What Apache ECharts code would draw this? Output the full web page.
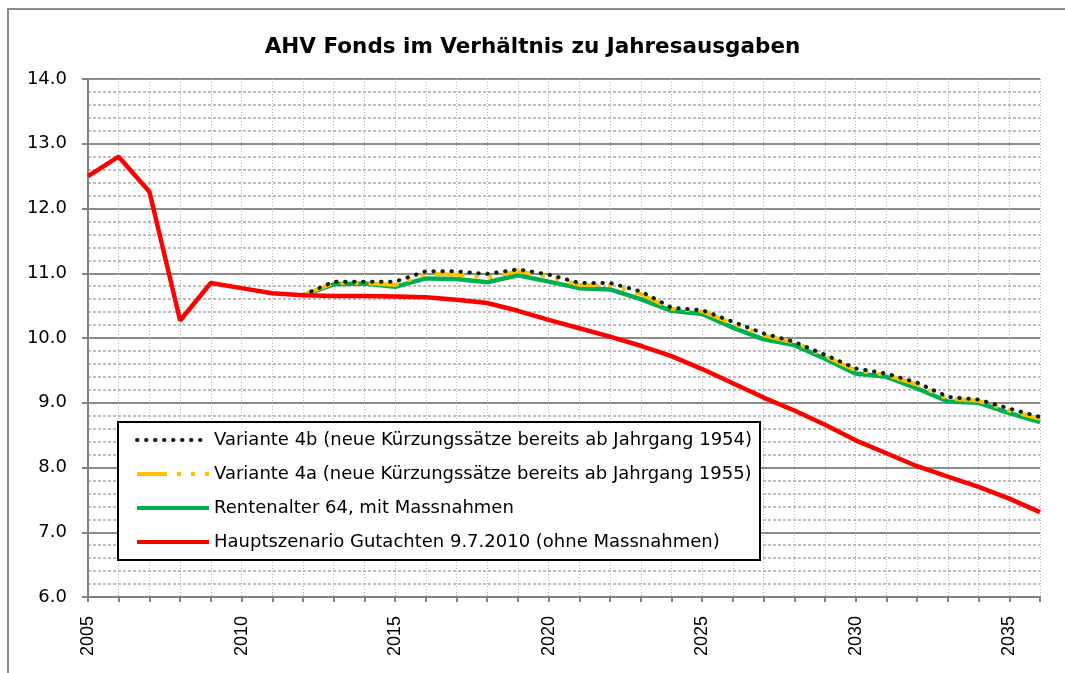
<!DOCTYPE html>
<html>
<head>
<meta charset="utf-8">
<script src="https://cdn.jsdelivr.net/npm/echarts@6/dist/echarts.min.js"></script>
<style>
html, body { margin: 0; padding: 0; background: #fff; }
#container { width: 1065px; height: 673px; }
</style>
</head>
<body>
<div id="container"></div>
<script>
var years = ['2005', '2006', '2007', '2008', '2009', '2010', '2011', '2012', '2013', '2014',
    '2015', '2016', '2017', '2018', '2019', '2020', '2021', '2022', '2023', '2024',
    '2025', '2026', '2027', '2028', '2029', '2030', '2031', '2032', '2033', '2034',
    '2035', '2036'];

// Hauptszenario Gutachten 9.7.2010 (ohne Massnahmen)
var hauptszenario = [12.5, 12.8, 12.26, 10.27, 10.85, 10.77, 10.69, 10.66, 10.65, 10.65,
    10.64, 10.63, 10.59, 10.54, 10.42, 10.28, 10.15, 10.02, 9.88, 9.72,
    9.52, 9.3, 9.08, 8.88, 8.66, 8.42, 8.22, 8.02, 7.86, 7.7,
    7.52, 7.31];

// Rentenalter 64, mit Massnahmen
var rentenalter64 = [null, null, null, null, null, null, null, 10.66, 10.83, 10.84,
    10.79, 10.92, 10.91, 10.86, 10.97, 10.87, 10.77, 10.75, 10.6, 10.42,
    10.37, 10.16, 9.98, 9.89, 9.68, 9.45, 9.4, 9.22, 9.02, 9.0,
    8.84, 8.7];

// Variante 4a
var variante4a = [null, null, null, null, null, null, null, 10.66, 10.85, 10.85,
    10.82, 10.99, 10.98, 10.93, 11.03, 10.95, 10.82, 10.82, 10.68, 10.45,
    10.41, 10.22, 10.04, 9.93, 9.72, 9.5, 9.43, 9.28, 9.06, 9.03,
    8.88, 8.75];

// Variante 4b
var variante4b = [null, null, null, null, null, null, null, 10.66, 10.87, 10.87,
    10.87, 11.03, 11.03, 10.99, 11.06, 10.98, 10.85, 10.85, 10.72, 10.47,
    10.43, 10.25, 10.07, 9.94, 9.74, 9.53, 9.45, 9.31, 9.09, 9.05,
    8.91, 8.78];

var yTicks = { min: 6, max: 14, step: 1 };

var dom = document.getElementById("container");
var myChart = echarts.init(dom);
var option = null;

var arial = '"Liberation Sans", Arial, sans-serif';
var wide = '"DejaVu Sans", Verdana, sans-serif';

option = {
    backgroundColor: '#fff',
    animation: false,
    title: {
        text: 'AHV Fonds im Verhältnis zu Jahresausgaben',
        left: 'center',
        top: 31,
        textStyle: {
            fontFamily: wide,
            fontSize: 21.5,
            fontWeight: 'bold',
            color: '#000'
        }
    },
    graphic: [
        {
            // outer chart border
            type: 'rect',
            shape: { x: 8, y: 9, width: 1100, height: 700 },
            style: { fill: 'none', stroke: '#8c8c8c', lineWidth: 2 },
            silent: true
        },
        {
            // legend box
            type: 'rect',
            shape: { x: 118, y: 422, width: 642, height: 138 },
            style: { fill: '#fff', stroke: '#000', lineWidth: 2 },
            z: 10,
            silent: true
        }
    ],
    legend: {
        orient: 'vertical',
        left: 135,
        top: 430,
        padding: 0,
        itemWidth: 72,
        itemHeight: 14,
        itemGap: 14,
        z: 20,
        itemStyle: { opacity: 0 },
        lineStyle: { width: 4 },
        textStyle: {
            fontFamily: wide,
            fontSize: 18,
            lineHeight: 20,
            color: '#000'
        },
        data: ['Variante 4b (neue Kürzungssätze bereits ab Jahrgang 1954)',
            'Variante 4a (neue Kürzungssätze bereits ab Jahrgang 1955)',
            'Rentenalter 64, mit Massnahmen',
            'Hauptszenario Gutachten 9.7.2010 (ohne Massnahmen)']
    },
    grid: {
        left: 88,
        right: 25,
        top: 79,
        bottom: 76
    },
    xAxis: {
        type: 'category',
        data: years,
        boundaryGap: false,
        axisLine: { lineStyle: { color: '#808080', width: 2 } },
        axisTick: { show: true, interval: 0, length: 5, lineStyle: { color: '#808080', width: 2 } },
        axisLabel: {
            interval: 4,
            rotate: 90,
            margin: 19,
            fontFamily: arial,
            fontSize: 18,
            color: '#000'
        },
        splitLine: {
            show: true,
            interval: 0,
            lineStyle: { color: '#b4b4b4', type: [1, 2], width: 1 }
        }
    },
    yAxis: {
        type: 'value',
        min: yTicks.min,
        max: yTicks.max,
        interval: yTicks.step,
        axisLine: { show: true, lineStyle: { color: '#808080', width: 2 } },
        axisTick: { show: true, length: 6, lineStyle: { color: '#808080', width: 2 } },
        axisLabel: {
            margin: 21,
            fontFamily: wide,
            fontSize: 18,
            color: '#000',
            formatter: function (v) { return v.toFixed(1); }
        },
        splitLine: { lineStyle: { color: '#8c8c8c', width: 2 } },
        minorTick: { show: false, splitNumber: 5 },
        minorSplitLine: { show: true, lineStyle: { color: '#a8a8a8', type: [3, 2], width: 1.5 } }
    },
    series: [
        {
            name: 'Hauptszenario Gutachten 9.7.2010 (ohne Massnahmen)',
            type: 'line',
            symbol: 'none',
            data: hauptszenario,
            color: '#ff0000',
            lineStyle: { color: '#ff0000', width: 4.5 },
            z: 5
        },
        {
            name: 'Rentenalter 64, mit Massnahmen',
            type: 'line',
            symbol: 'none',
            data: rentenalter64,
            color: '#00b050',
            lineStyle: { color: '#00b050', width: 4.5 },
            z: 2
        },
        {
            name: 'Variante 4a (neue Kürzungssätze bereits ab Jahrgang 1955)',
            type: 'line',
            symbol: 'none',
            data: variante4a,
            color: '#ffc000',
            lineStyle: { color: '#ffc000', width: 4, type: [30, 10, 4, 10, 4, 10] },
            z: 3
        },
        {
            name: 'Variante 4b (neue Kürzungssätze bereits ab Jahrgang 1954)',
            type: 'line',
            symbol: 'none',
            data: variante4b,
            color: '#0d260d',
            lineStyle: { color: '#0d260d', width: 4, type: [0.5, 8.5], cap: 'round' },
            z: 4
        }
    ]
};

if (option && typeof option === "object") {
    myChart.setOption(option, true);
}
</script>
</body>
</html>
